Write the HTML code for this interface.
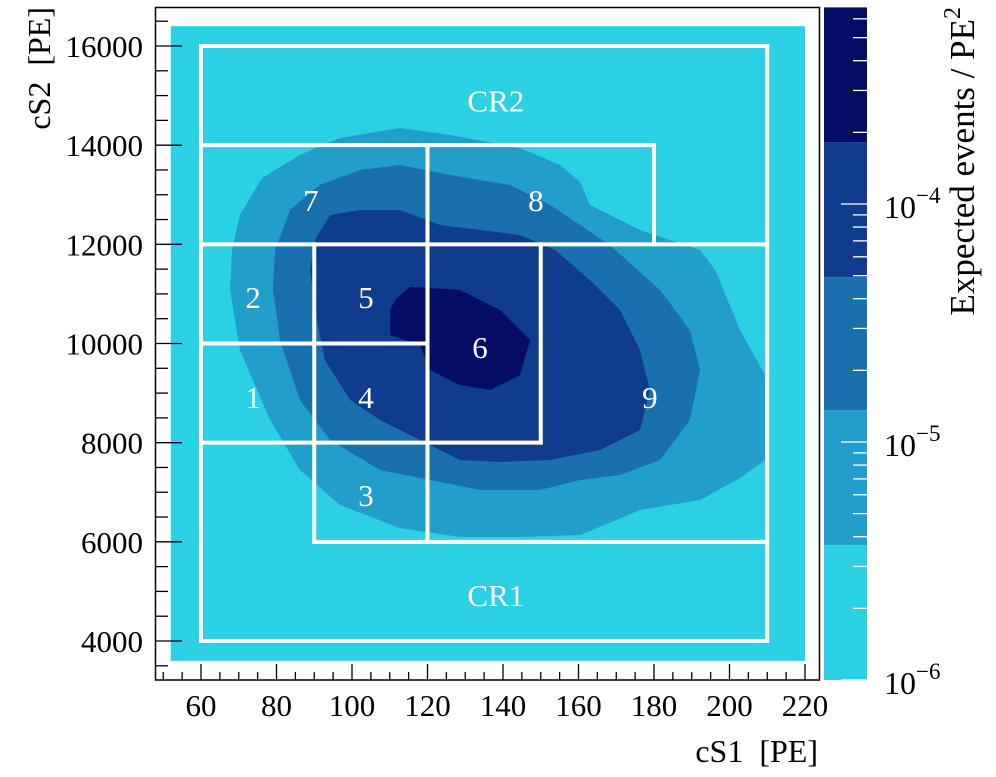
<!DOCTYPE html>
<html><head><meta charset="utf-8"><style>
body{margin:0;background:#fff}
svg text{font-family:"Liberation Serif",serif;fill:#000}
</style></head><body>
<svg id="chart" width="996" height="772" xmlns="http://www.w3.org/2000/svg"></svg>
<script>
const xTicks=[60,80,100,120,140,160,180,200,220];
const yTicks=[4000,6000,8000,10000,12000,14000,16000];
const levelColors=["#2bd0e3","#219ec9","#1a6fad","#0f3c8c","#040c64"];
const levelValues=[1e-6,3.69e-6,1.36e-5,4.93e-5,1.82e-4,6.7e-4];
const contour1=[[70.3,12591],[76.2,13337],[86.2,13801],[96.8,14144],[112.7,14346],[126,14205],[144.5,13943],[155.1,13600],[160.4,13257],[163,12793],[176.3,12289],[192.2,11885],[196.2,11482],[202.8,10272],[209.4,9364],[209.4,7650],[202.8,7287],[192.2,6843],[176.3,6641],[160.4,6137],[144.5,6097],[128.6,6097],[112.7,6278],[96.8,6742],[86.2,7448],[78.3,8456],[70.3,9868],[67.7,11079],[68.2,11885]];
const contour2=[[79.6,11885],[83.6,12692],[91.5,13196],[102.1,13499],[112.7,13600],[126,13398],[141.9,13196],[152.5,12793],[160.4,12390],[168.3,11986],[181.6,11079],[189.5,10272],[192.2,9465],[189.5,8456],[181.6,7650],[171,7347],[160.4,7246],[149.8,7045],[133.9,7045],[120.7,7246],[107.4,7448],[94.2,8053],[86.2,8860],[80.9,10070],[79.1,11079]];
const contour3=[[90.2,12087],[94.2,12591],[102.1,12692],[112.7,12692],[123.3,12390],[133.9,12289],[144.5,12188],[153.8,11885],[163,11280],[171,10675],[176.3,9868],[178.9,9062],[176.3,8255],[165.7,7851],[152.5,7650],[139.2,7609],[128.6,7650],[118,8053],[107.4,8456],[99.5,8860],[92.8,9667],[90.2,10675],[88.9,11482]];
const contour4=[[110.1,10675],[111.4,10877],[115.4,11139],[120.7,11119],[128.6,11079],[139.2,10675],[147.2,10070],[144.5,9364],[136.6,9062],[128.6,9162],[120.7,9465],[118,9969],[110.1,10171]];
const regionLines=[[60,4000,210,4000],[60,16000,210,16000],[60,4000,60,16000],[210,4000,210,16000],[60,14000,180,14000],[180,12000,180,14000],[60,12000,210,12000],[120,6000,120,14000],[90,6000,90,12000],[60,10000,120,10000],[60,8000,150,8000],[150,8000,150,12000],[90,6000,210,6000]];
const regionLabels=[["CR2",138.1,14900],["CR1",138.1,4930],["7",89.1,12890],["8",148.7,12890],["2",73.8,10940],["5",103.7,10940],["6",133.9,9930],["1",73.8,8920],["4",103.7,8920],["9",178.9,8920],["3",103.7,6940]];

const NS="http://www.w3.org/2000/svg";
const svg=document.getElementById('chart');
const X=v=>201+(v-60)*3.775;
const Y=v=>46+(16000-v)*0.049583;
const L0=680, DEC=238;
const CY=v=>L0-Math.log10(v/1e-6)*DEC;
function mk(t,a,parent){const e=document.createElementNS(NS,t);for(const k in a)e.setAttribute(k,a[k]);(parent||svg).appendChild(e);return e;}

let bg=mk('rect',{x:X(52),y:Y(16400),width:X(220)-X(52),height:Y(3600)-Y(16400),fill:levelColors[0]});


[contour1,contour2,contour3,contour4].forEach((c,i)=>{
  const p=mk('polygon',{points:c.map(d=>X(d[0])+','+Y(d[1])).join(' '),fill:levelColors[i+1]});
  
  
});
regionLines.forEach(l=>{
  const e=mk('line',{x1:X(l[0]),y1:Y(l[1]),x2:X(l[2]),y2:Y(l[3]),stroke:'#fff','stroke-width':4,'stroke-linecap':'square'});
  
  
});
regionLabels.forEach(r=>{
  const t=mk('text',{x:X(r[1]),y:Y(r[2])+11,'text-anchor':'middle','font-size':31});
  t.style.fill='#fff';t.textContent=r[0];
  
  
});
let fr=mk('rect',{x:155.5,y:7.5,width:664,height:672.5,fill:'none',stroke:'#000','stroke-width':1.5});


for(let v=50;v<=220;v+=5){const maj=v%20===0;const x=X(v);
  const t=mk('line',{x1:x,y1:680,x2:x,y2:680-(maj?16:8),stroke:'#000','stroke-width':1.3});
  
  }
xTicks.forEach(v=>{const t=mk('text',{x:X(v),y:716,'text-anchor':'middle','font-size':31});t.textContent=v;
  
  });
for(let v=3500;v<=16500;v+=500){const maj=v%2000===0;const y=Y(v);
  const t=mk('line',{x1:155,y1:y,x2:155+(maj?27:13),y2:y,stroke:'#000','stroke-width':1.3});
  
  }
yTicks.forEach(v=>{const t=mk('text',{x:143,y:Y(v)+11,'text-anchor':'end','font-size':31});t.textContent=v;
  
  });
let xt=mk('text',{x:818,y:762,'text-anchor':'end','font-size':32});xt.textContent='cS1  [PE]';


xt.style.whiteSpace='pre';
let yt=mk('text',{x:0,y:0,'text-anchor':'end','font-size':32,transform:'translate(50,7) rotate(-90)'});yt.textContent='cS2  [PE]';


yt.style.whiteSpace='pre';
for(let i=0;i<levelColors.length;i++){
  const y1=Math.max(7,CY(levelValues[i+1])), y2=CY(levelValues[i]);
  const r=mk('rect',{x:824,y:y1,width:43,height:y2-y1,fill:levelColors[i]});
  
  
}
for(let d=-6;d<=-4;d++)for(let m=1;m<=9;m++){const v=m*Math.pow(10,d);const y=CY(v);if(y<7||y>681)continue;
  const t=mk('line',{x1:m===1?841:853,y1:y,x2:867,y2:y,stroke:'#fff','stroke-width':1.3});
  
  }
[-6,-5,-4].forEach(d=>{const t=mk('text',{x:884,y:CY(Math.pow(10,d))+14,'font-size':32});
  t.innerHTML='10<tspan dy="-15" font-size="23">−'+(-d)+'</tspan>';
  
  });
let ct=mk('text',{x:0,y:0,'text-anchor':'end','font-size':35,transform:'translate(974,7) rotate(-90)'});
ct.innerHTML='Expected events / PE<tspan dy="-14" font-size="24">2</tspan>';


</script>
</body></html>
